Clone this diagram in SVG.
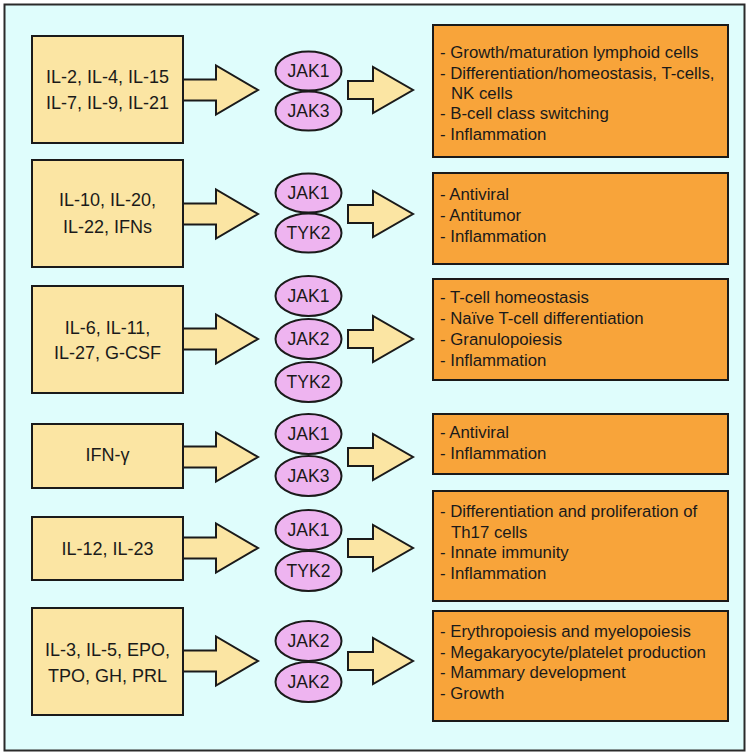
<svg xmlns="http://www.w3.org/2000/svg" width="750" height="756" viewBox="0 0 750 756">
<style>
.frame{fill:#DFFDFC;stroke:#2a2a2a;stroke-width:2}
.cyt{fill:#FBE5A3;stroke:#1a1a1a;stroke-width:2}
.arr{fill:#FBE5A3;stroke:#1a1a1a;stroke-width:2;stroke-linejoin:miter}
.jak{fill:#EEB4F0;stroke:#1a1a1a;stroke-width:2}
.out{fill:#F8A43A;stroke:#1a1a1a;stroke-width:2}
.lt{font-family:"Liberation Sans",Arial,sans-serif;font-size:18px;fill:#1a1a1a;text-anchor:middle}
.jt{font-family:"Liberation Sans",Arial,sans-serif;font-size:17.5px;fill:#1a1a1a;text-anchor:middle}
.rt{font-family:"Liberation Sans",Arial,sans-serif;font-size:16.8px;fill:#1a1a1a}
</style>
<rect class="frame" x="4.5" y="4.5" width="740" height="746"/>

<g id="connectors">
<polygon class="arr" points="183,79.5 216,79.5 216,65.5 258,90 216,114.5 216,100.5 183,100.5"/>
<polygon class="arr" points="183,203.5 216,203.5 216,189.5 258,214 216,238.5 216,224.5 183,224.5"/>
<polygon class="arr" points="183,328.5 216,328.5 216,314.5 258,339 216,363.5 216,349.5 183,349.5"/>
<polygon class="arr" points="183,446.5 216,446.5 216,432.5 258,457 216,481.5 216,467.5 183,467.5"/>
<polygon class="arr" points="183,537.5 216,537.5 216,523.5 258,548 216,572.5 216,558.5 183,558.5"/>
<polygon class="arr" points="183,650.5 216,650.5 216,636.5 258,661 216,685.5 216,671.5 183,671.5"/>

<polygon class="arr" points="348,81 373,81 373,67 413,90 373,113 373,99 348,99"/>
<polygon class="arr" points="348,205 373,205 373,191 413,214 373,237 373,223 348,223"/>
<polygon class="arr" points="348,330 373,330 373,316 413,339 373,362 373,348 348,348"/>
<polygon class="arr" points="348,448 373,448 373,434 413,457 373,480 373,466 348,466"/>
<polygon class="arr" points="348,539 373,539 373,525 413,548 373,571 373,557 348,557"/>
<polygon class="arr" points="348,652 373,652 373,638 413,661 373,684 373,670 348,670"/>
</g>

<g id="cytokines1"><rect class="cyt" x="32" y="36" width="151" height="107"/>
<text class="lt" x="107.5" y="83">IL-2, IL-4, IL-15</text><text class="lt" x="107.5" y="109">IL-7, IL-9, IL-21</text></g>
<g id="cytokines2"><rect class="cyt" x="32" y="160" width="151" height="107"/>
<text class="lt" x="107.5" y="206">IL-10, IL-20,</text><text class="lt" x="107.5" y="233">IL-22, IFNs</text></g>
<g id="cytokines3"><rect class="cyt" x="32" y="286" width="151" height="107"/>
<text class="lt" x="107.5" y="334">IL-6, IL-11,</text><text class="lt" x="107.5" y="359">IL-27, G-CSF</text></g>
<g id="cytokines4"><rect class="cyt" x="32" y="424" width="151" height="64"/>
<text class="lt" x="107.5" y="461">IFN-γ</text></g>
<g id="cytokines5"><rect class="cyt" x="32" y="517" width="151" height="63"/>
<text class="lt" x="107.5" y="555">IL-12, IL-23</text></g>
<g id="cytokines6"><rect class="cyt" x="32" y="608" width="151" height="107"/>
<text class="lt" x="107.5" y="656">IL-3, IL-5, EPO,</text><text class="lt" x="107.5" y="682">TPO, GH, PRL</text></g>

<g id="jaks1">
<ellipse class="jak" cx="308.5" cy="71" rx="33" ry="19.5"/><text class="jt" x="308.5" y="77">JAK1</text>
<ellipse class="jak" cx="308.5" cy="111" rx="33" ry="19.5"/><text class="jt" x="308.5" y="117">JAK3</text></g>
<g id="jaks2">
<ellipse class="jak" cx="308.5" cy="193" rx="33" ry="19.5"/><text class="jt" x="308.5" y="199">JAK1</text>
<ellipse class="jak" cx="308.5" cy="233" rx="33" ry="19.5"/><text class="jt" x="308.5" y="239">TYK2</text></g>
<g id="jaks3">
<ellipse class="jak" cx="308.5" cy="296" rx="33" ry="20"/><text class="jt" x="308.5" y="302">JAK1</text>
<ellipse class="jak" cx="308.5" cy="339" rx="33" ry="20"/><text class="jt" x="308.5" y="345">JAK2</text>
<ellipse class="jak" cx="308.5" cy="382" rx="33" ry="20"/><text class="jt" x="308.5" y="388">TYK2</text></g>
<g id="jaks4">
<ellipse class="jak" cx="308.5" cy="434" rx="33" ry="20"/><text class="jt" x="308.5" y="440">JAK1</text>
<ellipse class="jak" cx="308.5" cy="476" rx="33" ry="20"/><text class="jt" x="308.5" y="482">JAK3</text></g>
<g id="jaks5">
<ellipse class="jak" cx="308.5" cy="530" rx="33" ry="20"/><text class="jt" x="308.5" y="536">JAK1</text>
<ellipse class="jak" cx="308.5" cy="571" rx="33" ry="20"/><text class="jt" x="308.5" y="577">TYK2</text></g>
<g id="jaks6">
<ellipse class="jak" cx="308.5" cy="641" rx="33" ry="20"/><text class="jt" x="308.5" y="647">JAK2</text>
<ellipse class="jak" cx="308.5" cy="682" rx="33" ry="20"/><text class="jt" x="308.5" y="688">JAK2</text></g>

<g id="effects1"><rect class="out" x="433" y="25" width="295" height="132"/>
<text class="rt" x="440" y="58">- Growth/maturation lymphoid cells</text>
<text class="rt" x="440" y="79">- Differentiation/homeostasis, T-cells,</text>
<text class="rt" x="451" y="99">NK cells</text>
<text class="rt" x="440" y="119">- B-cell class switching</text>
<text class="rt" x="440" y="140">- Inflammation</text></g>
<g id="effects2"><rect class="out" x="433" y="173" width="295" height="91"/>
<text class="rt" x="440" y="200">- Antiviral</text>
<text class="rt" x="440" y="221">- Antitumor</text>
<text class="rt" x="440" y="242">- Inflammation</text></g>
<g id="effects3"><rect class="out" x="433" y="279" width="295" height="101"/>
<text class="rt" x="440" y="303">- T-cell homeostasis</text>
<text class="rt" x="440" y="324">- Naïve T-cell differentiation</text>
<text class="rt" x="440" y="345">- Granulopoiesis</text>
<text class="rt" x="440" y="366">- Inflammation</text></g>
<g id="effects4"><rect class="out" x="433" y="414" width="295" height="60"/>
<text class="rt" x="440" y="438">- Antiviral</text>
<text class="rt" x="440" y="459">- Inflammation</text></g>
<g id="effects5"><rect class="out" x="433" y="491" width="295" height="110"/>
<text class="rt" x="440" y="517">- Differentiation and proliferation of</text>
<text class="rt" x="451" y="538">Th17 cells</text>
<text class="rt" x="440" y="558">- Innate immunity</text>
<text class="rt" x="440" y="579">- Inflammation</text></g>
<g id="effects6"><rect class="out" x="433" y="611" width="295" height="110"/>
<text class="rt" x="440" y="637">- Erythropoiesis and myelopoiesis</text>
<text class="rt" x="440" y="658">- Megakaryocyte/platelet production</text>
<text class="rt" x="440" y="678">- Mammary development</text>
<text class="rt" x="440" y="699">- Growth</text></g>
</svg>
